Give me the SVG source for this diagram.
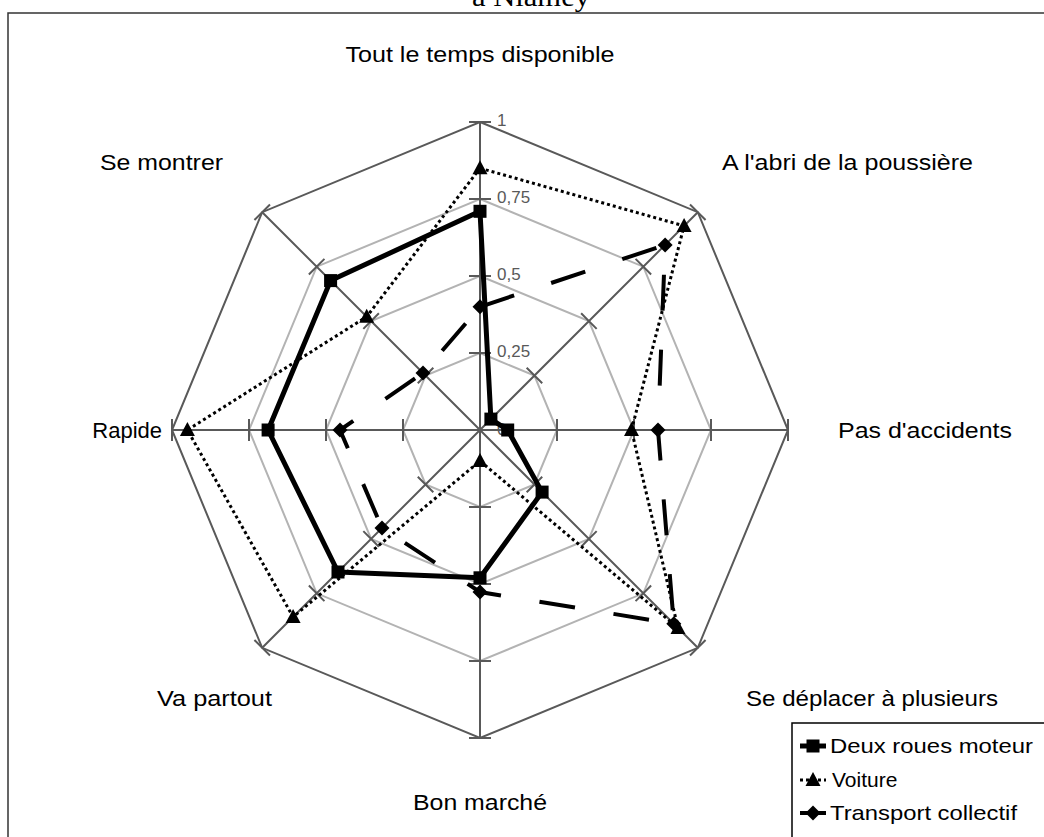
<svg xmlns="http://www.w3.org/2000/svg" xmlns:xlink="http://www.w3.org/1999/xlink" width="1044" height="837" viewBox="0 0 1044 837">
<style>
.lbl{font-family:"Liberation Sans",Arial,sans-serif;font-size:22px;fill:#000}
.val{font-family:"Liberation Sans",Arial,sans-serif;font-size:17px;fill:#595959}
.ttl{font-family:"Liberation Serif","Times New Roman",serif;font-size:27px;fill:#000}
.grid{fill:none;stroke:#b3b3b3;stroke-width:2}
.outer{fill:none;stroke:#595959;stroke-width:2}
.axis{stroke:#595959;stroke-width:2;fill:none}
.s1{fill:none;stroke:#000;stroke-width:5;stroke-linejoin:round}
.s2{fill:none;stroke:#000;stroke-width:3;stroke-dasharray:3 3}
.s3{fill:none;stroke:#000;stroke-width:4;stroke-dasharray:36 39}
</style>
<defs>
<rect id="sq" x="-6.5" y="-6.5" width="13" height="13" fill="#000"/>
<path id="tri" d="M0,-8 L7.5,6 L-7.5,6 Z" fill="#000"/>
<path id="dia" d="M0,-7.5 L7.5,0 L0,7.5 L-7.5,0 Z" fill="#000"/>
<path id="axis1" d="M480,430 V122 M469,353 H491 M469,276 H491 M469,199 H491 M469,122 H491"/>
</defs>
<rect width="1044" height="837" fill="#fff"/>
<path d="M8,837 V13 H1044" fill="none" stroke="#333" stroke-width="1.5"/>
<text class="ttl" x="472" y="6" textLength="118" lengthAdjust="spacingAndGlyphs">à Niamey</text>

<g id="grid">
<polygon class="grid" points="480,353 534.4,375.6 557,430 534.4,484.4 480,507 425.6,484.4 403,430 425.6,375.6"/>
<polygon class="grid" points="480,276 588.9,321.1 634,430 588.9,538.9 480,584 371.1,538.9 326,430 371.1,321.1"/>
<polygon class="grid" points="480,199 643.3,266.7 711,430 643.3,593.3 480,661 316.7,593.3 249,430 316.7,266.7"/>
<polygon class="outer" points="480,122 697.8,212.2 788,430 697.8,647.8 480,738 262.2,647.8 172,430 262.2,212.2"/>
</g>
<g id="axes" class="axis">
<use xlink:href="#axis1"/>
<use xlink:href="#axis1" transform="rotate(45 480 430)"/>
<use xlink:href="#axis1" transform="rotate(90 480 430)"/>
<use xlink:href="#axis1" transform="rotate(135 480 430)"/>
<use xlink:href="#axis1" transform="rotate(180 480 430)"/>
<use xlink:href="#axis1" transform="rotate(225 480 430)"/>
<use xlink:href="#axis1" transform="rotate(270 480 430)"/>
<use xlink:href="#axis1" transform="rotate(315 480 430)"/>
</g>
<g id="scale">
<text class="val" x="497" y="126">1</text>
<text class="val" x="497" y="203">0,75</text>
<text class="val" x="497" y="280">0,5</text>
<text class="val" x="497" y="357">0,25</text>
<text class="val" x="497" y="435">0</text>
</g>

<g id="labels">
<text class="lbl" x="480" y="62" text-anchor="middle" textLength="269" lengthAdjust="spacingAndGlyphs">Tout le temps disponible</text>
<text class="lbl" x="722" y="170" textLength="251" lengthAdjust="spacingAndGlyphs">A l'abri de la poussière</text>
<text class="lbl" x="838" y="438" textLength="174" lengthAdjust="spacingAndGlyphs">Pas d'accidents</text>
<text class="lbl" x="998" y="706" text-anchor="end" textLength="252" lengthAdjust="spacingAndGlyphs">Se déplacer à plusieurs</text>
<text class="lbl" x="480" y="810" text-anchor="middle" textLength="134" lengthAdjust="spacingAndGlyphs">Bon marché</text>
<text class="lbl" x="157" y="706" textLength="115" lengthAdjust="spacingAndGlyphs">Va partout</text>
<text class="lbl" x="162" y="438" text-anchor="end">Rapide</text>
<text class="lbl" x="100" y="170" textLength="123" lengthAdjust="spacingAndGlyphs">Se montrer</text>
</g>

<g id="connectors">
<polygon id="transport-collectif" class="s3" points="480,306.8 665.1,244.9 658,430 673.8,623.8 480,592 382,528 340,430 423,373"/>
<polygon id="voiture" class="s2" points="480,168.2 684.1,225.9 631.5,430 678,628 480,461 293.1,616.9 187.4,430 366.7,316.7"/>
<polygon id="deux-roues-moteur" class="s1" points="480,211.3 490.9,419.1 507.7,430 542.1,492.1 480,577.8 338,572 268.1,430 330.6,280.6"/>
</g>

<g id="markers-transport">
<use xlink:href="#dia" x="480" y="306.8"/>
<use xlink:href="#dia" x="665.1" y="244.9"/>
<use xlink:href="#dia" x="658" y="430"/>
<use xlink:href="#dia" x="673.8" y="623.8"/>
<use xlink:href="#dia" x="480" y="592"/>
<use xlink:href="#dia" x="382" y="528"/>
<use xlink:href="#dia" x="340" y="430"/>
<use xlink:href="#dia" x="423" y="373"/>
</g>
<g id="markers-voiture">
<use xlink:href="#tri" x="480" y="168.2"/>
<use xlink:href="#tri" x="684.1" y="225.9"/>
<use xlink:href="#tri" x="631.5" y="430"/>
<use xlink:href="#tri" x="678" y="628"/>
<use xlink:href="#tri" x="480" y="461"/>
<use xlink:href="#tri" x="293.1" y="616.9"/>
<use xlink:href="#tri" x="187.4" y="430"/>
<use xlink:href="#tri" x="366.7" y="316.7"/>
</g>
<g id="markers-deux-roues">
<use xlink:href="#sq" x="480" y="211.3"/>
<use xlink:href="#sq" x="490.9" y="419.1"/>
<use xlink:href="#sq" x="507.7" y="430"/>
<use xlink:href="#sq" x="542.1" y="492.1"/>
<use xlink:href="#sq" x="480" y="577.8"/>
<use xlink:href="#sq" x="338" y="572"/>
<use xlink:href="#sq" x="268.1" y="430"/>
<use xlink:href="#sq" x="330.6" y="280.6"/>
</g>

<g id="legend">
<rect x="792" y="723" width="270" height="130" fill="#fff" stroke="#000" stroke-width="1.5"/>
<line x1="800" y1="746" x2="826" y2="746" class="s1"/>
<use xlink:href="#sq" x="813" y="746"/>
<text class="lbl" x="830" y="753" textLength="203" lengthAdjust="spacingAndGlyphs" style="font-size:21px">Deux roues moteur</text>
<line x1="800" y1="780" x2="826" y2="780" class="s2"/>
<use xlink:href="#tri" x="813" y="780"/>
<text class="lbl" x="832" y="787" style="font-size:21px">Voiture</text>
<line x1="800" y1="813" x2="826" y2="813" class="s3" stroke-dasharray="none"/>
<use xlink:href="#dia" x="813" y="813"/>
<text class="lbl" x="830" y="820" textLength="187" lengthAdjust="spacingAndGlyphs" style="font-size:21px">Transport collectif</text>
</g>
</svg>
